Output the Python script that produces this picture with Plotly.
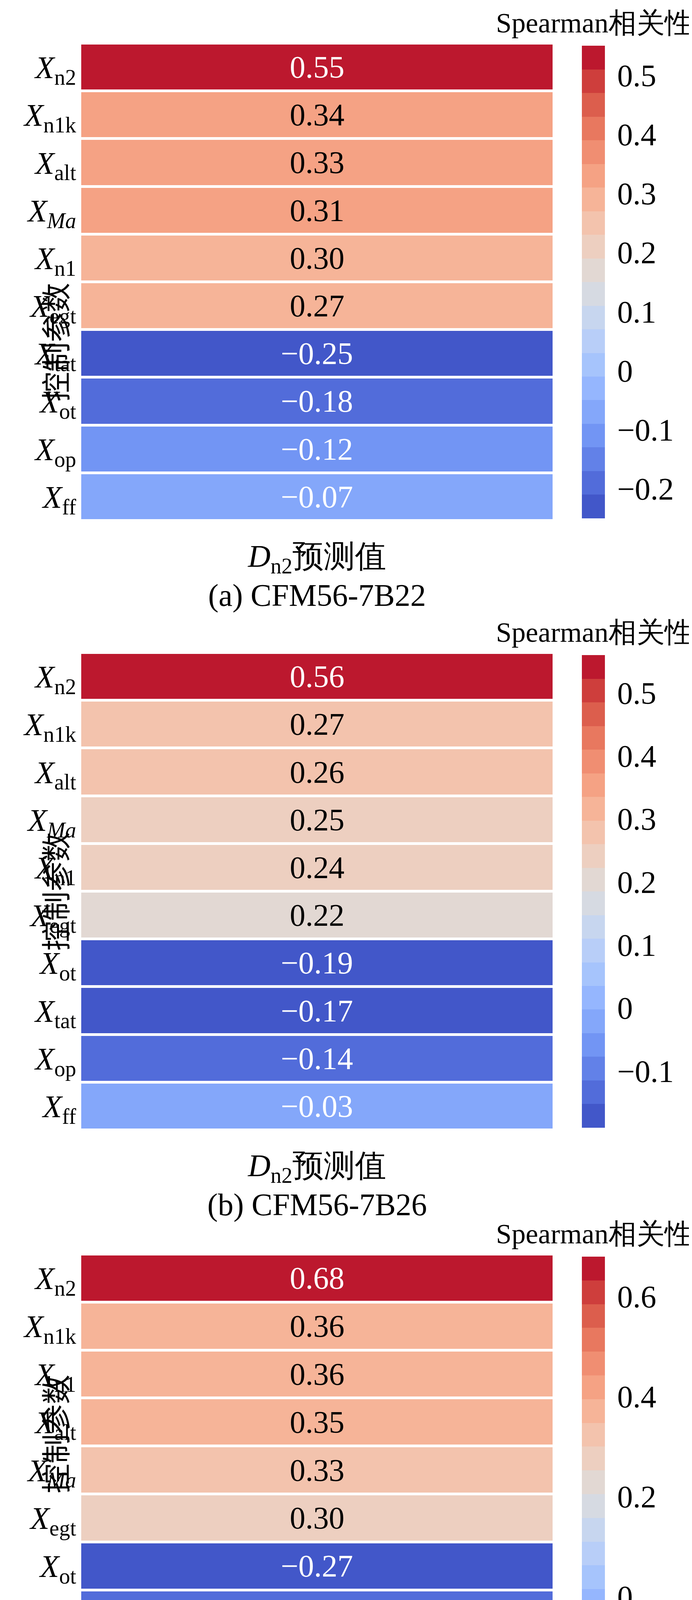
import plotly.graph_objects as go

# panel (a) CFM56-7B22
labels_a = ["n2", "n1k", "alt", "Ma", "n1", "egt", "tat", "ot", "op", "ff"]
values_a = [0.55, 0.34, 0.33, 0.31, 0.30, 0.27, -0.25, -0.18, -0.12, -0.07]
ticks_a = [-0.2, -0.1, 0, 0.1, 0.2, 0.3, 0.4, 0.5]

# panel (b) CFM56-7B26
labels_b = ["n2", "n1k", "alt", "Ma", "n1", "egt", "ot", "tat", "op", "ff"]
values_b = [0.56, 0.27, 0.26, 0.25, 0.24, 0.22, -0.19, -0.17, -0.14, -0.03]
ticks_b = [-0.1, 0, 0.1, 0.2, 0.3, 0.4, 0.5]

# panel (c) CFM56-3C1
labels_c = ["n2", "n1k", "n1", "alt", "Ma", "egt", "ot", "tat", "op", "ff"]
values_c = [0.68, 0.36, 0.36, 0.35, 0.33, 0.30, -0.27, -0.22, -0.19, -0.07]
ticks_c = [-0.2, 0, 0.2, 0.4, 0.6]

captions = ["(a) CFM56-7B22", "(b) CFM56-7B26", "(c) CFM56-3C1"]

W, H = 1772, 4614
FONT = "Liberation Serif"
FS = 80

# coolwarm anchors, stepped into 20 bins
cw = ["#3b4cc0", "#5977e3", "#7b9ff9", "#9ebeff", "#c0d4f5", "#dddcdc",
      "#f2cbb7", "#f7ac8e", "#ee8468", "#d65244", "#b40426"]


def hx(c):
    return [int(c[i:i + 2], 16) for i in (1, 3, 5)]


def cw_at(t):
    p = t * 10
    i = min(int(p), 9)
    f = p - i
    a, b = hx(cw[i]), hx(cw[i + 1])
    return "rgb(%d,%d,%d)" % tuple(round(a[k] + (b[k] - a[k]) * f) for k in range(3))


NB = 20
scale = []
for i in range(NB):
    c = cw_at((i + 0.5) / NB)
    scale.append([i / NB, c])
    scale.append([(i + 1) / NB, c])


def lab(s):
    if s == "Ma":
        return "<i>X</i><sub><i>Ma</i></sub>"
    return "<i>X</i><sub>%s</sub>" % s


def fmt(v):
    s = "%.2f" % abs(v)
    return ("−" + s) if v < 0 else s


panels = [(labels_a, values_a, ticks_a, 103, 1325),
          (labels_b, values_b, ticks_b, 1663, 2885),
          (labels_c, values_c, ticks_c, 3203, 4431)]

fig = go.Figure()
annotations = []
for k, (labs, vals, ticks, top, bot) in enumerate(panels):
    n = "" if k == 0 else str(k + 1)
    ylabs = [lab(s) for s in labs]
    zmin, zmax = min(vals), max(vals)
    fig.add_trace(go.Heatmap(
        x=["D"], y=ylabs, z=[[v] for v in vals],
        xaxis="x" + n, yaxis="y" + n, coloraxis="coloraxis" + n,
        ygap=7, xgap=0, hoverinfo="skip"))
    fig.layout["coloraxis" + n] = dict(
        colorscale=scale, cmin=zmin, cmax=zmax,
        colorbar=dict(x=1472 / W, xanchor="left", thickness=59,
                      lenmode="pixels", len=bot - top + 8,
                      y=1 - (top + bot) / 2 / H, yanchor="middle",
                      outlinewidth=0, tickvals=ticks,
                      ticktext=[("−" + str(abs(t))) if t < 0 else str(t) for t in ticks],
                      ticks="outside", ticklen=16, tickcolor="rgba(0,0,0,0)",
                      tickfont=dict(family=FONT, size=FS, color="black")))
    fig.layout["xaxis" + n] = dict(domain=[200 / W, 1407 / W], anchor="y" + n,
                                   showticklabels=False, ticks="", showgrid=False,
                                   zeroline=False)
    fig.layout["yaxis" + n] = dict(domain=[1 - bot / H, 1 - top / H], anchor="x" + n,
                                   autorange="reversed", ticks="", showgrid=False,
                                   tickfont=dict(family=FONT, size=FS, color="black"),
                                   ticklabelstandoff=12)
    for lb, v in zip(ylabs, vals):
        t = (v - zmin) / (zmax - zmin)
        col = "white" if (t > 0.85 or v < 0) else "black"
        annotations.append(dict(x="D", y=lb, xref="x" + n, yref="y" + n,
                                text=fmt(v), showarrow=False,
                                font=dict(family=FONT, size=FS, color=col)))
    annotations.append(dict(x=74 / W, y=1 - (top + bot) / 2 / H, xref="paper", yref="paper",
                            text="控制参数", textangle=-90, showarrow=False,
                            font=dict(family="Noto Sans CJK SC", size=FS - 4, color="black")))
    annotations.append(dict(x=(200 + 1407) / 2 / W, y=1 - (bot + 45) / H, xref="paper", yref="paper",
                            yanchor="top", text="<i>D</i><sub>n2</sub>预测值", showarrow=False,
                            font=dict(family=FONT, size=FS, color="black")))
    annotations.append(dict(x=(200 + 1407) / 2 / W, y=1 - (bot + 145) / H, xref="paper", yref="paper",
                            yanchor="top", text=captions[k], showarrow=False,
                            font=dict(family=FONT, size=FS, color="black")))
    annotations.append(dict(x=1768 / W, y=1 - (top - 10) / H, xref="paper", yref="paper",
                            xanchor="right", yanchor="bottom", text="Spearman相关性",
                            showarrow=False, font=dict(family=FONT, size=FS - 8, color="black")))

fig.update_layout(width=W, height=H, margin=dict(l=0, r=0, t=0, b=0),
                  plot_bgcolor="white", paper_bgcolor="white",
                  annotations=annotations, font=dict(family=FONT))
fig.write_html("out.html")
